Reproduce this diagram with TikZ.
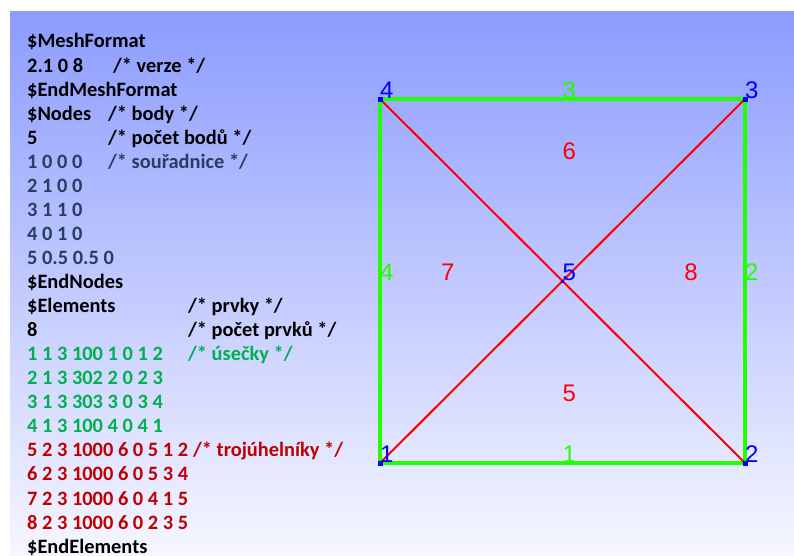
\documentclass[tikz,border=0pt]{standalone}
\usepackage{fontspec}
\setmainfont{Carlito}
\newfontfamily\meshfont{Liberation Sans}
\usepackage{xcolor}
\usetikzlibrary{positioning}
\definecolor{bgtop}{HTML}{8C9CFE}
\definecolor{bgbot}{HTML}{F6F7FF}
\definecolor{nodetxt}{HTML}{243F60}
\definecolor{segtxt}{HTML}{00B050}
\definecolor{tritxt}{HTML}{C00000}
\definecolor{edgegreen}{HTML}{22FF00}
\definecolor{ptblue}{HTML}{0000FF}
\definecolor{trired}{HTML}{FF0000}

\begin{document}
\begin{tikzpicture}[x=1pt,y=-1pt,
  ln/.style={anchor=base west,inner sep=0pt,font=\fontsize{20.4}{20.4}\selectfont\bfseries},
  seg/.style={draw=edgegreen,line width=4pt},
  tri/.style={draw=trired,line width=2pt},
  pt/.style={draw=ptblue,fill=ptblue,minimum size=4pt,inner sep=0pt},
  mlab/.style={anchor=south west,inner sep=0pt,font=\meshfont\fontsize{24}{24}\selectfont}
]
\useasboundingbox (0,0) rectangle (794,556);
\fill[top color=bgtop,bottom color=bgbot] (10,12) rectangle (794,556);

% gmsh file
\node[ln] (l0) at (27,48) {\$MeshFormat};
\node[ln] (l1) at (27,72.1) {2.1 0 8};
\node[ln] (c1) at (113,72.1) {/* verze */};
\node[ln] (l2) at (27,96.1) {\$EndMeshFormat};
\node[ln] (l3) at (27,120.2) {\$Nodes};
\node[ln] (c3) at (108,120.2) {/* body */};
\node[ln] (l4) at (27,144.2) {5};
\node[ln] (c4) at (108,144.2) {/* počet bodů */};
\node[ln,nodetxt] (l5) at (27,168.3) {1 0 0 0};
\node[ln,nodetxt] (c5) at (108,168.3) {/* souřadnice */};
\node[ln,nodetxt] (l6) at (27,192.3) {2 1 0 0};
\node[ln,nodetxt] (l7) at (27,216.4) {3 1 1 0};
\node[ln,nodetxt] (l8) at (27,240.4) {4 0 1 0};
\node[ln,nodetxt] (l9) at (27,264.5) {5 0.5 0.5 0};
\node[ln] (l10) at (27,288.5) {\$EndNodes};
\node[ln] (l11) at (27,312.6) {\$Elements};
\node[ln] (c11) at (188,312.6) {/* prvky */};
\node[ln] (l12) at (27,336.6) {8};
\node[ln] (c12) at (188,336.6) {/* počet prvků */};
\node[ln,segtxt] (l13) at (27,360.7) {1 1 3 100 1 0 1 2};
\node[ln,segtxt] (c13) at (188,360.7) {/* úsečky */};
\node[ln,segtxt] (l14) at (27,384.7) {2 1 3 302 2 0 2 3};
\node[ln,segtxt] (l15) at (27,408.8) {3 1 3 303 3 0 3 4};
\node[ln,segtxt] (l16) at (27,432.8) {4 1 3 100 4 0 4 1};
\node[ln,tritxt] (l17) at (27,456.9) {5 2 3 1000 6 0 5 1 2};
\node[ln,tritxt] (c17) at (193,456.9) {/* trojúhelníky */};
\node[ln,tritxt] (l18) at (27,480.9) {6 2 3 1000 6 0 5 3 4};
\node[ln,tritxt] (l19) at (27,505.0) {7 2 3 1000 6 0 4 1 5};
\node[ln,tritxt] (l20) at (27,529.0) {8 2 3 1000 6 0 2 3 5};
\node[ln] (l21) at (27,553.0) {\$EndElements};

% mesh
\coordinate (p1) at (380,463);
\coordinate (p2) at (745,463);
\coordinate (p3) at (745,99);
\coordinate (p4) at (380,99);
\coordinate (p5) at (562.5,281);
\draw[seg] (p1) -- (p2) -- (p3) -- (p4) -- cycle;
\draw[tri] (p4) -- (p2);
\draw[tri] (p1) -- (p3);
\node[pt] (m1) at (p1) {};
\node[pt] (m2) at (p2) {};
\node[pt] (m3) at (p3) {};
\node[pt] (m4) at (p4) {};
\node[pt,minimum size=2pt] (m5) at (p5) {};

\node[mlab,ptblue] (n1) at (p1) {1};
\node[mlab,ptblue] (n2) at (p2) {2};
\node[mlab,ptblue] (n3) at (p3) {3};
\node[mlab,ptblue] (n4) at (p4) {4};
\node[mlab,ptblue] (n5) at (p5) {5};

\node[mlab,edgegreen] (e1) at (barycentric cs:p1=1,p2=1) {1};
\node[mlab,edgegreen] (e2) at (barycentric cs:p2=1,p3=1) {2};
\node[mlab,edgegreen] (e3) at (barycentric cs:p3=1,p4=1) {3};
\node[mlab,edgegreen] (e4) at (barycentric cs:p4=1,p1=1) {4};

\node[mlab,trired] (t5) at (barycentric cs:p1=1,p2=1,p5=1) {5};
\node[mlab,trired] (t6) at (barycentric cs:p5=1,p3=1,p4=1) {6};
\node[mlab,trired] (t7) at (barycentric cs:p4=1,p1=1,p5=1) {7};
\node[mlab,trired] (t8) at (barycentric cs:p2=1,p3=1,p5=1) {8};
\end{tikzpicture}
\end{document}
